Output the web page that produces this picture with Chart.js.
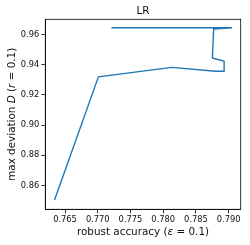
<!DOCTYPE html>
<html>
<head>
<meta charset="utf-8">
<script src="https://cdn.jsdelivr.net/npm/chart.js@4.4.1/dist/chart.umd.min.js"></script>
<style>
  html, body { margin: 0; padding: 0; background: #fff; }
  canvas { display: block; }
</style>
</head>
<body>
<canvas id="chart" width="250" height="245"></canvas>
<script>
// Data (path order matters)
const robustAcc = [0.7634, 0.7701, 0.7813, 0.7880, 0.7894, 0.7893, 0.7875, 0.7877, 0.7905, 0.7721];
const maxDev = [0.8503, 0.9320, 0.9383, 0.9357, 0.9357, 0.9423, 0.9446, 0.9638, 0.9646, 0.9646];
const xTicks = [0.765, 0.770, 0.775, 0.780, 0.785, 0.790];
const yTicks = [0.86, 0.88, 0.90, 0.92, 0.94, 0.96];

const FONT = "'DejaVu Sans', sans-serif";

// draw a string made of plain/italic pieces, centred on (x, y)
function drawRich(ctx, parts, x, y, size) {
    let total = 0;
    parts.forEach(p => {
        ctx.font = (p[1] ? 'italic ' : '') + size + 'px ' + FONT;
        total += ctx.measureText(p[0]).width;
    });
    let cur = x - total / 2;
    ctx.textAlign = 'left';
    ctx.textBaseline = 'middle';
    parts.forEach(p => {
        ctx.font = (p[1] ? 'italic ' : '') + size + 'px ' + FONT;
        ctx.fillText(p[0], cur, y);
        cur += ctx.measureText(p[0]).width;
    });
}

const overlay = {
    id: 'overlay',
    afterDraw(chart) {
        const ctx = chart.ctx;
        const a = chart.chartArea;
        ctx.save();
        // full frame like matplotlib spines
        ctx.strokeStyle = '#000';
        ctx.lineWidth = 0.8;
        ctx.strokeRect(a.left, a.top, a.right - a.left, a.bottom - a.top);

        ctx.fillStyle = '#111';
        const cx = (a.left + a.right) / 2;
        const cy = (a.top + a.bottom) / 2;
        drawRich(ctx, [['LR', false]], cx, 11, 10.4);
        drawRich(ctx, [['robust accuracy (', false], ['ε', true], [' = 0.1)', false]], cx, 232, 10.4);

        ctx.translate(12.5, cy);
        ctx.rotate(-Math.PI / 2);
        drawRich(ctx, [['max deviation ', false], ['D', true], [' (', false], ['r', true], [' = 0.1)', false]], 0, 0, 10.4);
        ctx.restore();
    }
};

const points = robustAcc.map((v, i) => ({ x: v, y: maxDev[i] }));

new Chart(document.getElementById('chart'), {
    type: 'scatter',
    data: {
        datasets: [{
            data: points,
            showLine: true,
            borderColor: '#1f77b4',
            borderWidth: 1.4,
            pointRadius: 0,
            tension: 0,
            fill: false
        }]
    },
    options: {
        responsive: false,
        animation: false,
        layout: { padding: { top: 19.3, right: 9.3, left: 0, bottom: 0 } },
        plugins: {
            legend: { display: false },
            tooltip: { enabled: false },
            title: { display: false }
        },
        scales: {
            x: {
                type: 'linear',
                min: 0.76199,
                max: 0.79183,
                afterBuildTicks: scale => { scale.ticks = xTicks.map(v => ({ value: v })); },
                afterFit: scale => { scale.height = 35.7; },
                grid: { drawOnChartArea: false, drawTicks: true, tickLength: 4, color: '#000', lineWidth: 0.8 },
                border: { display: true, color: '#000', width: 0.8 },
                ticks: {
                    color: '#111',
                    font: { family: FONT, size: 8.3 },
                    padding: 2,
                    maxRotation: 0,
                    autoSkip: false,
                    callback: v => v.toFixed(3)
                }
            },
            y: {
                type: 'linear',
                min: 0.8441,
                max: 0.9702,
                afterBuildTicks: scale => { scale.ticks = yTicks.map(v => ({ value: v })); },
                afterFit: scale => { scale.width = 45.3; },
                grid: { drawOnChartArea: false, drawTicks: true, tickLength: 4, color: '#000', lineWidth: 0.8 },
                border: { display: true, color: '#000', width: 0.8 },
                ticks: {
                    color: '#111',
                    font: { family: FONT, size: 8.3 },
                    padding: 2,
                    autoSkip: false,
                    callback: v => v.toFixed(2)
                }
            }
        }
    },
    plugins: [overlay]
});
</script>
</body>
</html>
